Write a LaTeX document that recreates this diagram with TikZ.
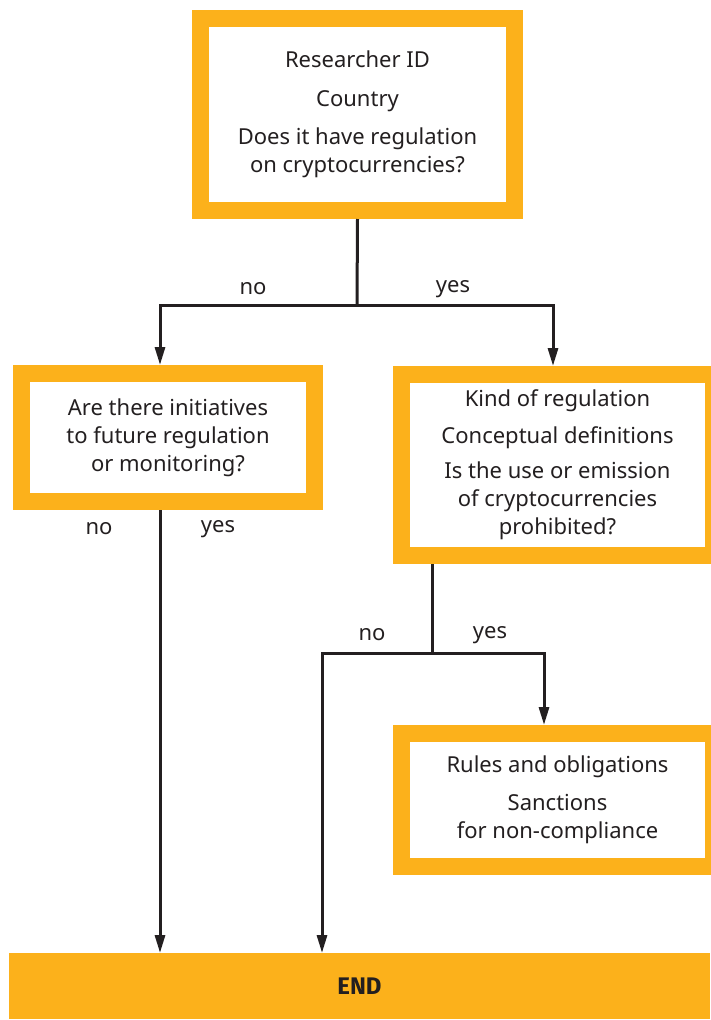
\documentclass[tikz,border=0pt]{standalone}
\usepackage{fontspec}
\setmainfont{Noto Sans}
\newfontfamily\endfont{Fira Sans}
\usetikzlibrary{arrows.meta,calc}
\definecolor{gold}{RGB}{252,177,27}
\definecolor{ink}{RGB}{35,31,32}
\begin{document}
\begin{tikzpicture}[x=1pt,y=-1pt,
  box/.style={draw=gold, line width=17pt, fill=white, inner sep=0pt, outer sep=8.5pt,
    align=center, text=ink, font=\fontsize{22}{28}\selectfont},
  lbl/.style={text=ink, font=\fontsize{22}{24}\selectfont, inner sep=0pt},
  conn/.style={draw=ink, line width=3pt},
  arr/.style={conn, -{Triangle[length=18pt,width=10pt]}}]
\useasboundingbox (0,0) rectangle (710,1020);
\node[box, minimum width=314pt, minimum height=192pt] (t) at (357.5,114.5)
  {Researcher ID\\[11pt]Country\\[10pt]Does it have regulation\\on cryptocurrencies?};
\node[box, minimum width=293pt, minimum height=128pt] (l) at (168,437.5)
  {Are there initiatives\\to future regulation\\or monitoring?};
\node[box, minimum width=312pt, minimum height=181pt] (r) at (557.5,465)
  {Kind of regulation\\[9pt]Conceptual definitions\\[7pt]Is the use or emission\\of cryptocurrencies\\prohibited?};
\node[box, minimum width=312pt, minimum height=133pt] (s) at (557.5,800)
  {Rules and obligations\\[10pt]Sanctions\\for non-compliance};
\node[fill=gold, minimum width=701pt, minimum height=66pt, inner sep=0pt, outer sep=0pt,
  text=ink, font=\endfont\bfseries\fontsize{24}{28}\selectfont] (e) at (359.5,986) {END};
\coordinate (j1) at (357,305);
\coordinate (lx) at (160,0);
\coordinate (rx) at (553,0);
\coordinate (j2) at (432,653);
\coordinate (nx) at (322,653);
\coordinate (yx) at (544,653);
\draw[conn] (t.south) -- (j1);
\draw[arr] (j1) -| (lx |- l.north);
\draw[arr] (j1) -| (rx |- r.north);
\draw[arr] (lx |- l.south) -- (lx |- e.north);
\draw[conn] (j2 |- r.south) -- (j2);
\draw[arr] (j2) -| (yx |- s.north);
\draw[arr] (j2) -- (nx) -- (nx |- e.north);
\node[lbl] (n1) at (253,289) {no};
\node[lbl] (y1) at (453,289) {yes};
\node[lbl] (n2) at (99,529) {no};
\node[lbl] (y2) at (218,529) {yes};
\node[lbl] (n3) at (372,635) {no};
\node[lbl] (y3) at (490,635) {yes};
\end{tikzpicture}
\end{document}
